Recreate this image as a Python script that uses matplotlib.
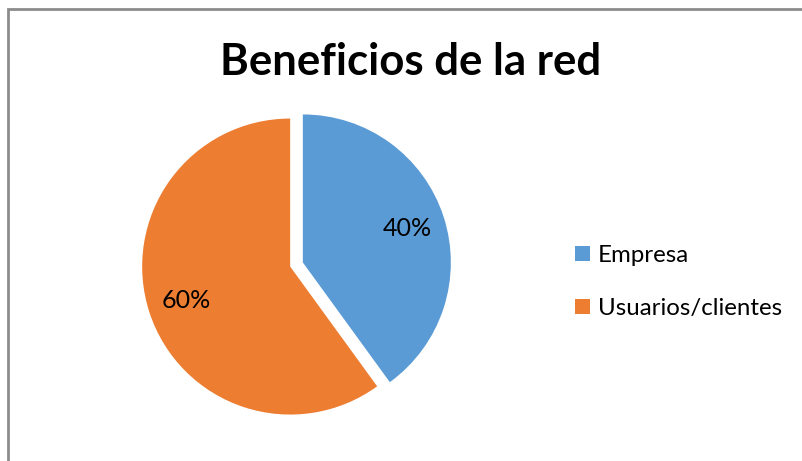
import matplotlib.pyplot as plt
from matplotlib.patches import Rectangle

plt.rcParams['font.family'] = ['Lato', 'DejaVu Sans']

# dati
categorias = ["Empresa", "Usuarios/clientes"]
valores = [40, 60]
colores = ["#5B9BD5", "#ED7D31"]
titulo = "Beneficios de la red"

W, H = 802, 461
fig = plt.figure(figsize=(W / 100, H / 100), dpi=100)

# marco gris del gráfico (sale por la derecha y por abajo)
fig.patches.append(Rectangle((8 / W, -0.1), 1.2, 1 - 9.5 / H + 0.1,
                             transform=fig.transFigure, fill=False,
                             edgecolor="#8C8C8C", linewidth=2))

# ejes en "píxeles": centro del pastel en (296.5, 264.5), radio 148 px
r = 148
cx, cy = 296.5, 264.5
ax = fig.add_axes([0, 0, 1, 1])
wedges, texts, autotexts = ax.pie(
    valores,
    colors=colores,
    startangle=90,
    counterclock=False,
    explode=[0.045, 0.045],
    autopct="%1.0f%%",
    pctdistance=0.74,
    textprops={"fontsize": 18, "color": "black"},
    wedgeprops={"linewidth": 0},
)
ax.set_aspect("auto")
ax.set_xlim(-cx / r, (W - cx) / r)
ax.set_ylim((cy - H) / r, cy / r)
ax.axis("off")

fig.text(411 / W, 1 - 75 / H, titulo, ha="center", va="baseline",
         fontsize=31.5, fontweight="bold")

fig.legend(wedges, categorias, loc="center left",
           bbox_to_anchor=(575 / W, 1 - 282 / H), frameon=False,
           borderpad=0, borderaxespad=0,
           fontsize=17.3, handlelength=0.63, handleheight=0.63,
           handletextpad=0.32, labelspacing=1.33)

fig.savefig("out.png", dpi=100)
